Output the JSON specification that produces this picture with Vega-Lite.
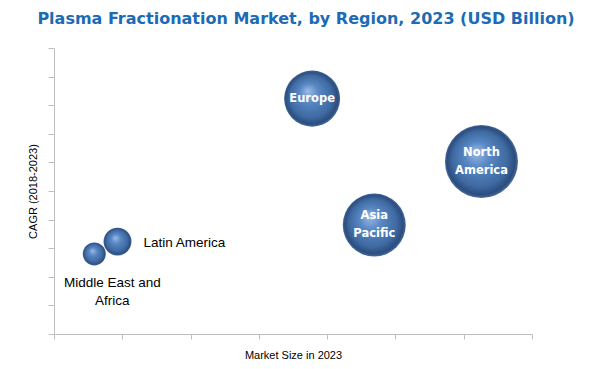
{
  "$schema": "https://vega.github.io/schema/vega-lite/v6.json",
  "width": 478,
  "height": 286,
  "autosize": {"type": "none"},
  "padding": {"left": 54, "top": 48, "right": 80, "bottom": 35},
  "background": "white",
  "title": {
    "text": "Plasma Fractionation Market, by Region, 2023 (USD Billion)",
    "font": "DejaVu Sans",
    "fontSize": 16,
    "fontWeight": "bold",
    "color": "#1c6bb4",
    "anchor": "middle",
    "dx": 13,
    "offset": 21
  },
  "config": {
    "view": {"stroke": null},
    "axis": {
      "grid": false,
      "labels": false,
      "domainColor": "#bfbfbf",
      "tickColor": "#bfbfbf",
      "titleFont": "Liberation Sans",
      "titleFontSize": 11,
      "titleFontWeight": "normal",
      "titleColor": "#000000"
    }
  },
  "data": {
    "values": [
      {"region": "Europe", "label": "Europe", "size": 3.78, "cagr": 8.23, "value": 31.4},
      {"region": "North America", "label": "North\nAmerica", "size": 6.26, "cagr": 6.03, "value": 53.3},
      {"region": "Asia Pacific", "label": "Asia\nPacific", "size": 4.69, "cagr": 3.81, "value": 39.7},
      {"region": "Latin America", "label": "Latin America", "size": 0.93, "cagr": 3.23, "value": 7.8},
      {"region": "Middle East and Africa", "label": "Middle East and\nAfrica", "size": 0.59, "cagr": 2.8, "value": 5.3}
    ]
  },
  "encoding": {
    "x": {
      "field": "size", "type": "quantitative",
      "scale": {"domain": [0, 7], "nice": false, "zero": true},
      "axis": {"values": [0, 1, 2, 3, 4, 5, 6, 7], "tickSize": 5, "title": "Market Size in 2023", "titlePadding": 10}
    },
    "y": {
      "field": "cagr", "type": "quantitative",
      "scale": {"domain": [0, 10], "nice": false},
      "axis": {"values": [0, 1, 2, 3, 4, 5, 6, 7, 8, 9, 10], "tickSize": 6, "title": "CAGR (2018-2023)", "titlePadding": 9}
    }
  },
  "layer": [
    {
      "mark": {
        "type": "point",
        "shape": "circle",
        "filled": true,
        "opacity": 1,
        "fill": {
          "gradient": "radial",
          "x1": 0.42, "y1": 0.36, "r1": 0,
          "x2": 0.5, "y2": 0.5, "r2": 0.5,
          "stops": [
            {"offset": 0, "color": "#9dbce6"},
            {"offset": 0.35, "color": "#5887c3"},
            {"offset": 0.75, "color": "#3f6aa2"},
            {"offset": 0.93, "color": "#2b4d7e"},
            {"offset": 1, "color": "#4a6d9c"}
          ]
        }
      },
      "encoding": {
        "size": {
          "field": "value", "type": "quantitative",
          "scale": {"type": "linear", "domain": [0, 60], "range": [0, 6000], "zero": true},
          "legend": null
        }
      }
    },
    {
      "transform": [{"filter": "datum.region == 'Europe'"}],
      "mark": {
        "type": "text",
        "align": "center",
        "baseline": "middle",
        "font": "DejaVu Sans",
        "fontSize": 11.5,
        "fontWeight": "bold",
        "color": "white"
      },
      "encoding": {"text": {"field": "label"}}
    },
    {
      "transform": [{"filter": "datum.region == 'North America' || datum.region == 'Asia Pacific'"}],
      "mark": {
        "type": "text",
        "align": "center",
        "baseline": "middle",
        "lineBreak": "\n",
        "lineHeight": 18,
        "dy": -9,
        "font": "DejaVu Sans",
        "fontSize": 11.5,
        "fontWeight": "bold",
        "color": "white"
      },
      "encoding": {"text": {"field": "label"}}
    },
    {
      "transform": [{"filter": "datum.region == 'Latin America'"}],
      "mark": {
        "type": "text",
        "align": "left",
        "baseline": "middle",
        "dx": 26,
        "dy": 1,
        "font": "Liberation Sans",
        "fontSize": 13.5,
        "color": "#000000"
      },
      "encoding": {"text": {"field": "label"}}
    },
    {
      "transform": [{"filter": "datum.region == 'Middle East and Africa'"}],
      "mark": {
        "type": "text",
        "align": "center",
        "baseline": "middle",
        "lineBreak": "\n",
        "lineHeight": 18,
        "dx": 18,
        "dy": 29,
        "font": "Liberation Sans",
        "fontSize": 13.5,
        "color": "#000000"
      },
      "encoding": {"text": {"field": "label"}}
    }
  ]
}
